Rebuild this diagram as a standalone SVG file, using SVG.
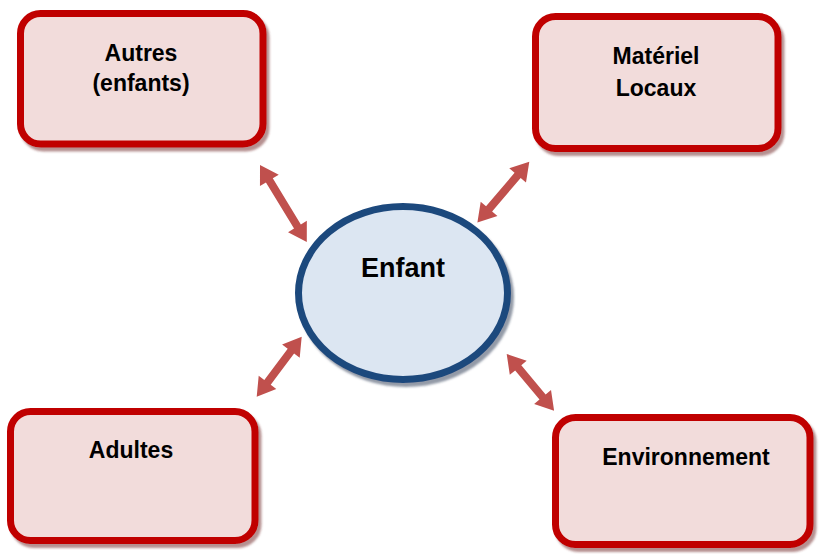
<svg xmlns="http://www.w3.org/2000/svg" width="819" height="554" viewBox="0 0 819 554">
  <defs>
    <filter id="boxShadow" x="-10%" y="-10%" width="125%" height="130%">
      <feDropShadow dx="3" dy="4" stdDeviation="1.2" flood-color="#7a3434" flood-opacity="0.55"/>
    </filter>
    <filter id="ovalShadow" x="-10%" y="-10%" width="125%" height="130%">
      <feDropShadow dx="3" dy="4" stdDeviation="1.2" flood-color="#3a4a60" flood-opacity="0.55"/>
    </filter>
  </defs>
  <style>
    .box { fill: #f2dcdb; stroke: #c00000; stroke-width: 7; filter: url(#boxShadow); }
    .oval { fill: #dce6f2; stroke: #1f497d; stroke-width: 7; filter: url(#ovalShadow); }
    .label { font-family: "Liberation Sans", Arial, sans-serif; font-weight: bold; font-size: 23px; fill: #000; text-anchor: middle; }
    .center { font-size: 27px; }
    .arrow { fill: #c0504d; }
  </style>

  <!-- connectors: double-headed block arrows between the child and each context -->
  <g id="connectors">
    <path class="arrow" transform="translate(260,165) rotate(58.67)" d="M0,0 L18,-11 L18,-4 L72,-4 L72,-11 L90,0 L72,11 L72,4 L18,4 L18,11 Z"/>
    <path class="arrow" transform="translate(529.3,161.7) rotate(130.45)" d="M0,0 L18,-11 L18,-4 L62,-4 L62,-11 L80,0 L62,11 L62,4 L18,4 L18,11 Z"/>
    <path class="arrow" transform="translate(301.7,336.7) rotate(126.87)" d="M0,0 L18,-11 L18,-4 L57,-4 L57,-11 L75,0 L57,11 L57,4 L18,4 L18,11 Z"/>
    <path class="arrow" transform="translate(506.7,354) rotate(50.17)" d="M0,0 L18,-11 L18,-4 L56,-4 L56,-11 L74,0 L56,11 L56,4 L18,4 L18,11 Z"/>
  </g>

  <g id="autres">
    <rect class="box" x="20.5" y="13.5" width="242.5" height="130.5" rx="20"/>
    <text class="label" x="141" y="61">Autres</text>
    <text class="label" x="141" y="91">(enfants)</text>
  </g>

  <g id="materiel">
    <rect class="box" x="535.5" y="16.5" width="242.5" height="132" rx="20"/>
    <text class="label" x="656" y="64">Matériel</text>
    <text class="label" x="656" y="96">Locaux</text>
  </g>

  <g id="adultes">
    <rect class="box" x="10.5" y="411.5" width="244.5" height="129" rx="20"/>
    <text class="label" x="131" y="458">Adultes</text>
  </g>

  <g id="environnement">
    <rect class="box" x="555.5" y="417.5" width="254.5" height="127" rx="20"/>
    <text class="label" x="686" y="465">Environnement</text>
  </g>

  <g id="enfant">
    <ellipse class="oval" cx="403" cy="293" rx="104.5" ry="86.5"/>
    <text class="label center" x="403" y="277">Enfant</text>
  </g>
</svg>
